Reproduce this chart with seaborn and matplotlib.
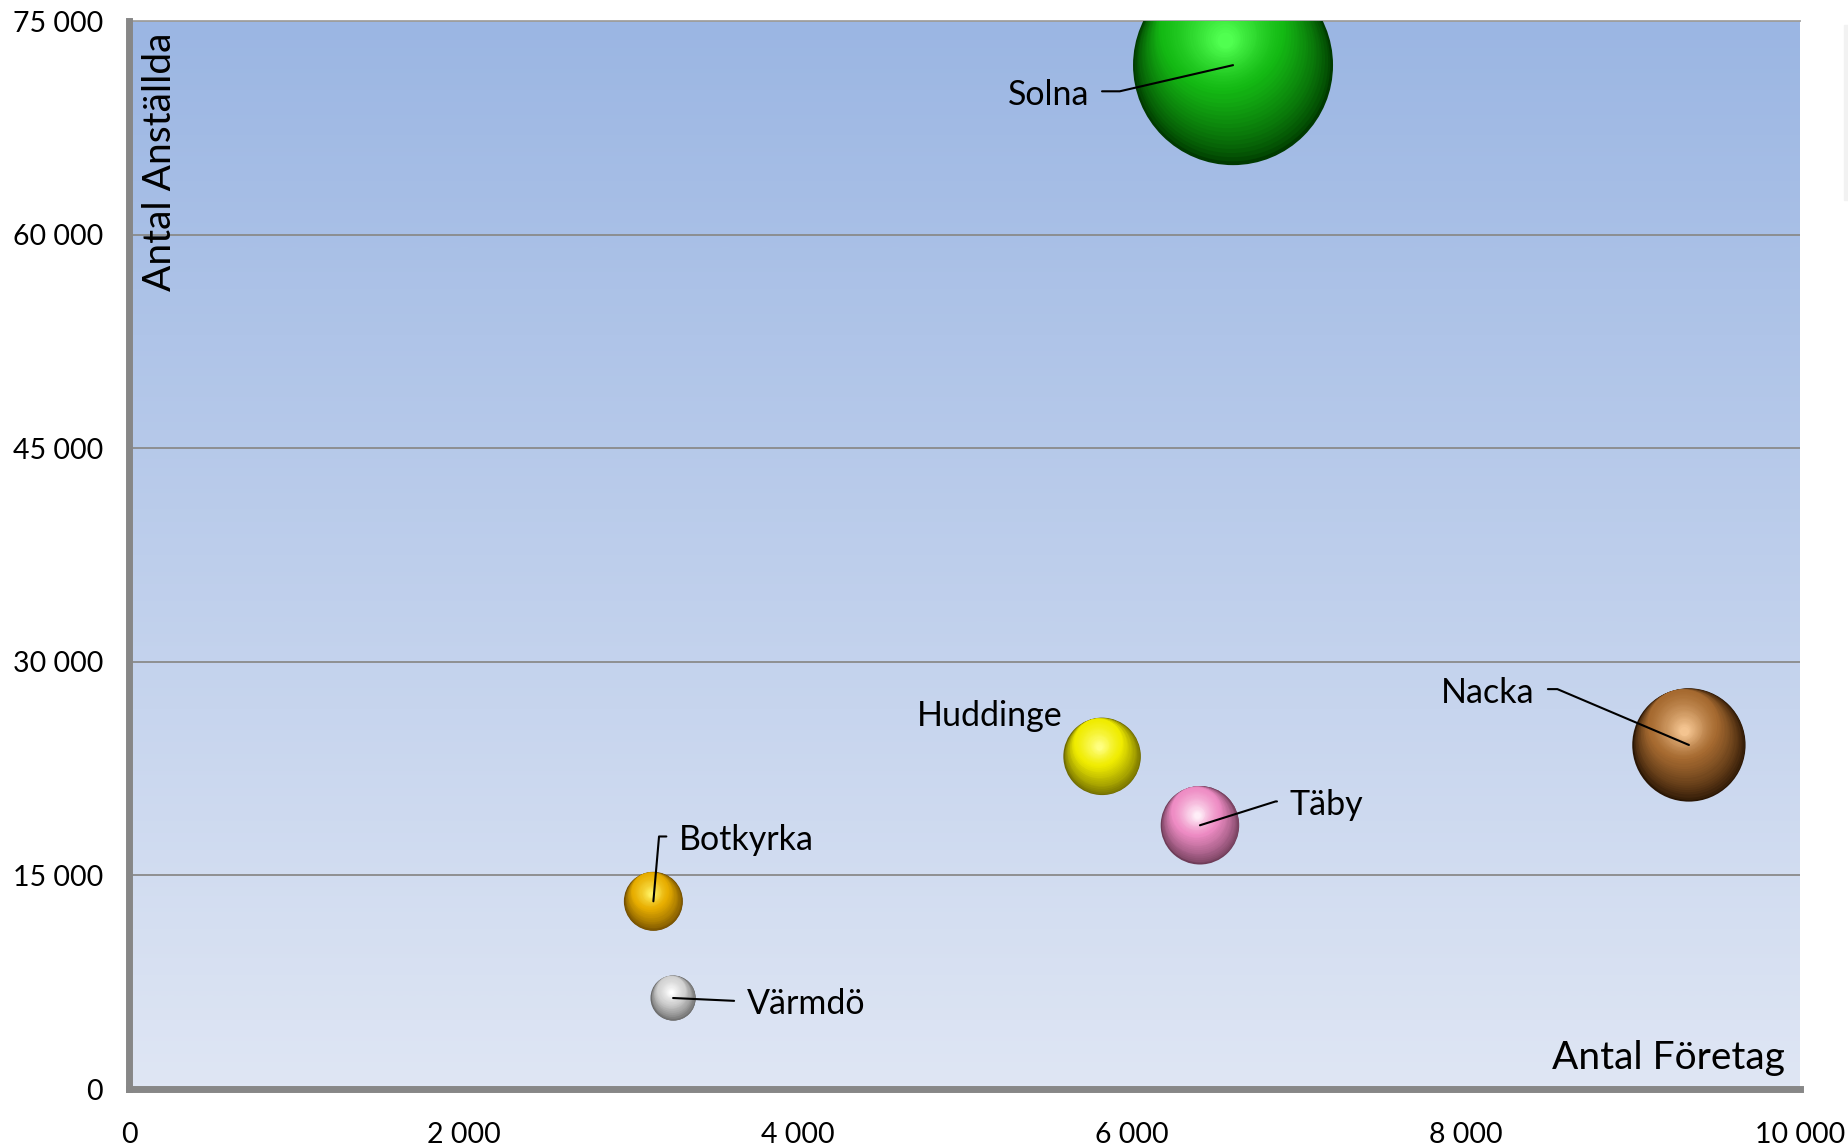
import numpy as np
import pandas as pd
import matplotlib
matplotlib.use("Agg")
import matplotlib.pyplot as plt
import seaborn as sns
from matplotlib.transforms import ScaledTranslation
from matplotlib.colors import to_rgb, LinearSegmentedColormap
from matplotlib.patches import Rectangle

# ---------------- data ----------------
kommuner = ["Solna", "Nacka", "Huddinge", "Täby", "Botkyrka", "Värmdö"]
antal_foretag = [6606, 9335, 5822, 6408, 3136, 3254]
antal_anstallda = [71900, 24160, 23360, 18520, 13180, 6390]
bubble_size = [100.0, 32.1, 15.0, 15.4, 8.7, 5.1]
x_ticks = [0, 2000, 4000, 6000, 8000, 10000]
y_ticks = [0, 15000, 30000, 45000, 60000, 75000]

# ---------------- style ----------------
sphere_colors = {
    "Solna":    ("#003A00", "#14BA14", "#50FF50"),
    "Nacka":    ("#2A1604", "#A66A30", "#F4C490"),
    "Huddinge": ("#6E6A00", "#F0EC00", "#FFFF80"),
    "Täby":     ("#6E3C58", "#EE8CC4", "#FFEEF8"),
    "Botkyrka": ("#704C00", "#E8AE00", "#FFF060"),
    "Värmdö":   ("#666666", "#D2D2D2", "#FFFFFF"),
}
label_layout = {
    # ha, offset px (dx, dy), relpos, connection
    "Solna":    ("right", (-144, -40), (1, 0.62), "angle,angleA=0,angleB=13,rad=0"),
    "Nacka":    ("right", (-154, 42), (1, 0.62), "angle,angleA=0,angleB=-23,rad=0"),
    "Huddinge": ("right", (-40, 30), None, None),
    "Täby":     ("left", (90, 10), (0, 0.62), "angle,angleA=0,angleB=17.5,rad=0"),
    "Botkyrka": ("left", (26, 51), (0, 0.62), "angle,angleA=0,angleB=85,rad=0"),
    "Värmdö":   ("left", (74, -16), (0, 0.58), "arc3,rad=0"),
}

sns.set_style("white")
plt.rcParams["font.family"] = ["Lato", "DejaVu Sans"]

df = pd.DataFrame({
    "Kommun": kommuner,
    "Antal Företag": antal_foretag,
    "Antal Anställda": antal_anstallda,
    "Storlek": bubble_size,
})

W, H, DPI = 1849, 1147, 100
fig = plt.figure(figsize=(W / DPI, H / DPI), dpi=DPI)
fig.patch.set_facecolor("white")
ax = fig.add_axes([129.5 / W, 1 - 1089 / H, (1800 - 129.5) / W, (1089 - 21) / H])

# background gradient
bg = LinearSegmentedColormap.from_list("bg", ["#DFE6F4", "#9BB6E3"])
grad = np.linspace(0, 1, 256).reshape(-1, 1)
ax.imshow(grad, extent=[0, 1, 0, 1], transform=ax.transAxes, origin="lower",
          aspect="auto", cmap=bg, zorder=0, interpolation="bilinear")

# base spheres (dark rim) via seaborn
max_s = 20736.0
dark_palette = {k: sphere_colors[k][0] for k in kommuner}
sns.scatterplot(data=df, x="Antal Företag", y="Antal Anställda", hue="Kommun",
                palette=dark_palette, size="Storlek", sizes=(0, max_s),
                size_norm=(0, max(bubble_size)), legend=False, linewidth=0,
                edgecolor="none", ax=ax, zorder=3)


def blend(c1, c2, t):
    a, b = np.array(to_rgb(c1)), np.array(to_rgb(c2))
    return tuple(a + (b - a) * np.clip(t, 0, 1))


# shading layers: outer layers tangent at upper-left, inner ones concentric
n_layers = 44
fmin, fa = 0.08, 0.62
u = np.array([-0.30, 0.95])
u = u / np.linalg.norm(u)
for i, row in df.iterrows():
    s = row["Storlek"] / max(bubble_size) * max_s
    r_pts = np.sqrt(s) / 2
    dark, base, hi = sphere_colors[row["Kommun"]]
    for k in range(1, n_layers):
        f = 1 - (k / (n_layers - 1)) * (1 - fmin)
        if f >= fa:
            off = (1 - f) * r_pts * u
            c = blend(dark, base, ((1 - f) / (1 - fa)) ** 0.75)
        else:
            off = (1 - fa) * r_pts * u * (1 - 0.3 * (fa - f) / (fa - fmin))
            c = blend(base, hi, ((fa - f) / (fa - fmin)) ** 1.3)
        tr = ax.transData + ScaledTranslation(off[0] / 72, off[1] / 72, fig.dpi_scale_trans)
        ax.scatter([row["Antal Företag"]], [row["Antal Anställda"]],
                   s=(2 * f * r_pts) ** 2, color=[c], linewidths=0,
                   transform=tr, zorder=3 + k * 0.01)

# labels with leader lines
for i, row in df.iterrows():
    ha, (dx, dy), relpos, conn = label_layout[row["Kommun"]]
    arrowprops = None
    if conn is not None:
        arrowprops = dict(arrowstyle="-", color="black", lw=1.5, shrinkA=7,
                          shrinkB=0, relpos=relpos, connectionstyle=conn)
    ax.annotate(row["Kommun"], xy=(row["Antal Företag"], row["Antal Anställda"]),
                xytext=(dx, dy), textcoords="offset pixels", ha=ha, va="baseline",
                fontsize=24.5, color="black", arrowprops=arrowprops, zorder=20)

# axes
ax.set_xlim(x_ticks[0], x_ticks[-1])
ax.set_ylim(y_ticks[0], y_ticks[-1])
ax.set_xticks(x_ticks)
ax.set_yticks(y_ticks)
fmt = lambda v: f"{v:,}".replace(",", " ")
ax.set_xticklabels([fmt(v) for v in x_ticks])
ax.set_yticklabels([fmt(v) for v in y_ticks])
ax.set_xlabel("")
ax.set_ylabel("")
ax.yaxis.grid(True, color="#8A8A8A", lw=1.3)
ax.xaxis.grid(False)
ax.set_axisbelow(True)
for side in ["left", "bottom"]:
    ax.spines[side].set_color("#878787")
    ax.spines[side].set_linewidth(5)
    ax.spines[side].set_zorder(30)
ax.spines["right"].set_visible(False)
ax.spines["top"].set_color("#A0A0A0")
ax.spines["top"].set_linewidth(1.3)
ax.tick_params(axis="both", direction="out", length=7, width=3.5, color="#878787",
               pad=12, labelsize=20.5, labelcolor="black")
ax.tick_params(axis="x", pad=17)

ax.text(0.0075, 0.989, "Antal Anställda", transform=ax.transAxes, rotation=90,
        ha="left", va="top", fontsize=28, color="black", zorder=25)
ax.text(0.991, 0.0187, "Antal Företag", transform=ax.transAxes,
        ha="right", va="baseline", fontsize=28, color="black", zorder=25)

# faint empty legend box at right edge
fig.patches.append(Rectangle((1844 / W, 1 - 200 / H), 0.01, 175 / H,
                             transform=fig.transFigure, color="#F2F2F2", zorder=0))

fig.savefig("out.png", dpi=DPI)
